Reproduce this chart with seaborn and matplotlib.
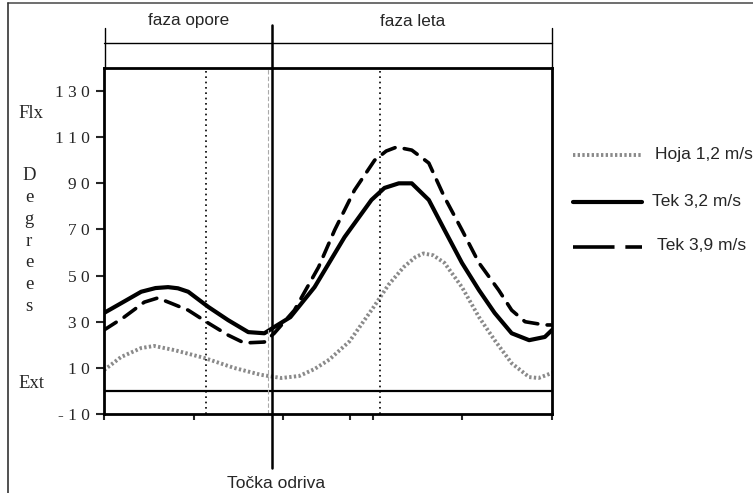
import matplotlib
matplotlib.use("Agg")
import matplotlib.pyplot as plt
import seaborn as sns
import pandas as pd
from matplotlib.lines import Line2D

# ---- data ----
hoja_x = [0, 3.8, 8.3, 11.2, 15.7, 22.4, 29, 35, 39.6, 43.6, 47, 50.3, 54.8, 60.2, 63.5, 66.9,
          69.5, 71.3, 73.5, 76, 79.9, 83.7, 87.2, 91, 94.9, 97, 100]
hoja_y = [9, 14.7, 18.6, 19.5, 17.7, 14.3, 10, 7, 5.6, 6.5, 9.5, 13.6, 21.5, 36.4, 46, 53.7,
          58, 59.6, 58.8, 55.5, 45, 32, 22, 12, 6, 5.6, 7.8]

tek32_x = [0, 3.8, 8.3, 11.5, 14.3, 16.5, 18.8, 23.3, 27.7, 32.2, 35.8, 38, 41.6, 47, 53.7, 59.7,
           62.6, 65.8, 68.7, 72.5, 76, 79.9, 83.7, 87.2, 91, 94.9, 98.4, 100]
tek32_y = [33.8, 38, 43, 44.6, 45, 44.5, 43, 36.4, 30.7, 25.5, 25, 27.7, 32, 45, 66.7, 82.8,
           88, 90, 90, 82.8, 69.8, 55.5, 43.7, 33.8, 25, 22, 23.4, 26.4]

tek39_x = [0, 4.5, 9, 12, 15, 18.8, 23.3, 27.7, 31.3, 35.8, 38, 42.5, 47.9, 51.5, 55.9, 60.4,
           63, 65.3, 68.7, 72.5, 76, 79.9, 83.7, 88.1, 91, 94, 98.4, 100]
tek39_y = [26.4, 32, 38.5, 40.3, 38, 35, 29.4, 24.2, 20.8, 21.2, 25, 35, 53.7, 69.8, 87, 100,
           104, 105.7, 104.4, 98.8, 84, 69.8, 55.5, 43.7, 35, 30, 28.6, 28.6]

legend_labels = ["Hoja 1,2 m/s", "Tek 3,2 m/s", "Tek 3,9 m/s"]
y_ticks = [130, 110, 90, 70, 50, 30, 10, -10]
y_ticklabels = ["1 3 0", "1 1 0", "9 0", "7 0", "5 0", "3 0", "1 0", "- 1 0"]
x_ticks = [0, 20, 40, 55, 60, 80, 100]
toe_off = 37.6
dotted_lines = [22.8, 61.7]
gray_dashed = 36.6

# ---- style ----
sns.set_style("white")
plt.rcParams['font.family'] = ['Liberation Sans', 'DejaVu Sans']

W, H = 753, 493
fig = plt.figure(figsize=(W / 100, H / 100), dpi=100)
ax = fig.add_axes([104 / W, 1 - 414 / H, 448 / W, 346 / H])

df_h = pd.DataFrame({"x": hoja_x, "y": hoja_y})
df_32 = pd.DataFrame({"x": tek32_x, "y": tek32_y})
df_39 = pd.DataFrame({"x": tek39_x, "y": tek39_y})

sns.lineplot(data=df_h, x="x", y="y", ax=ax, color="#8a8a8a", lw=2.8,
             linestyle=(0, (0.6, 0.6)), estimator=None, solid_joinstyle="round")
sns.lineplot(data=df_32, x="x", y="y", ax=ax, color="black", lw=3.0, estimator=None,
             solid_joinstyle="round", solid_capstyle="round")
l39 = sns.lineplot(data=df_39, x="x", y="y", ax=ax, color="black", lw=2.6,
                   estimator=None).lines[-1]
l39.set_dashes((4.0, 2.6))
l39.set_dash_joinstyle("round")
l39.set_dash_capstyle("round")

ax.set_xlim(0, 100)
ax.set_ylim(-10, 140)
ax.axhline(0, color="black", lw=1.6)
for xv in dotted_lines:
    ax.axvline(xv, color="black", lw=1.2, linestyle=(0, (1, 2.2)))
ax.axvline(gray_dashed, color="#aaaaaa", lw=0.8, linestyle=(0, (4, 2)))

for sp in ax.spines.values():
    sp.set_linewidth(2.0)
    sp.set_color("black")

ax.set_yticks(y_ticks)
ax.set_yticklabels(y_ticklabels, family=['Liberation Serif', 'DejaVu Serif'], fontsize=12.5)
ax.set_xticks(x_ticks)
ax.set_xticklabels([])
ax.tick_params(axis="y", direction="out", length=6, width=1.5, pad=4, left=True)
ax.tick_params(axis="x", direction="out", length=4, width=1.5, bottom=True)
ax.set_xlabel("")
ax.set_ylabel("")

# bracket above the plot
def ay(py):
    return (414 - py) / 346

ax.plot([0, 100], [ay(43), ay(43)], color="black", lw=1.0,
        transform=ax.get_xaxis_transform(), clip_on=False)
for xv in [0.3, 100]:
    ax.plot([xv, xv], [ay(28), ay(68)], color="black", lw=1.0,
            transform=ax.get_xaxis_transform(), clip_on=False)
ax.plot([toe_off, toe_off], [ay(25), ay(468)], color="black", lw=1.8,
        transform=ax.get_xaxis_transform(), clip_on=False)

ax.text(19, ay(20), "faza opore", transform=ax.get_xaxis_transform(),
        ha="center", va="center", fontsize=12.3)
ax.text(69, ay(22), "faza leta", transform=ax.get_xaxis_transform(),
        ha="center", va="center", fontsize=12.3)
ax.text(38.3, ay(484), "Točka odriva", transform=ax.get_xaxis_transform(),
        ha="center", va="center", fontsize=12.5)

# y-axis words
serif = ['Liberation Serif', 'DejaVu Serif']
fig.text(31 / W, 1 - 113 / H, "Flx", family=serif, fontsize=13.5, ha="center", va="center")
fig.text(31 / W, 1 - 383 / H, "Ext", family=serif, fontsize=13.5, ha="center", va="center")
fig.text(29 / W, 1 - 241 / H, "D\ne\ng\nr\ne\ne\ns", family=serif, fontsize=13.5,
         ha="center", va="center", linespacing=1.36, multialignment="center")

# legend drawn in figure coordinates
def fpt(px, py):
    return px / W, 1 - py / H

x0, y0 = fpt(573, 155); x1, _ = fpt(642, 155)
fig.add_artist(Line2D([x0, x1], [y0, y0], color="#8a8a8a", lw=2.8, linestyle=(0, (0.6, 0.6))))
fig.text(655 / W, y0, legend_labels[0], fontsize=12.5, va="center", ha="left")

x0, y0 = fpt(573, 202)
fig.add_artist(Line2D([x0, x1], [y0, y0], color="black", lw=3.0))
fig.text(652 / W, 1 - 201 / H, legend_labels[1], fontsize=12.5, va="center", ha="left")

x0, y0 = fpt(573, 247)
ld = Line2D([x0, x1], [y0, y0], color="black", lw=2.6)
ld.set_dashes((11.5, 3.0))
fig.add_artist(ld)
fig.text(657 / W, 1 - 246 / H, legend_labels[2], fontsize=12.5, va="center", ha="left")

# outer frame lines
fig.add_artist(Line2D([8 / W, 1.0], [1 - 3 / H, 1 - 3 / H], color="#555555", lw=1.2))
fig.add_artist(Line2D([8 / W, 8 / W], [0.0, 1 - 3 / H], color="#333333", lw=1.2))

fig.savefig("out.png", dpi=100)
